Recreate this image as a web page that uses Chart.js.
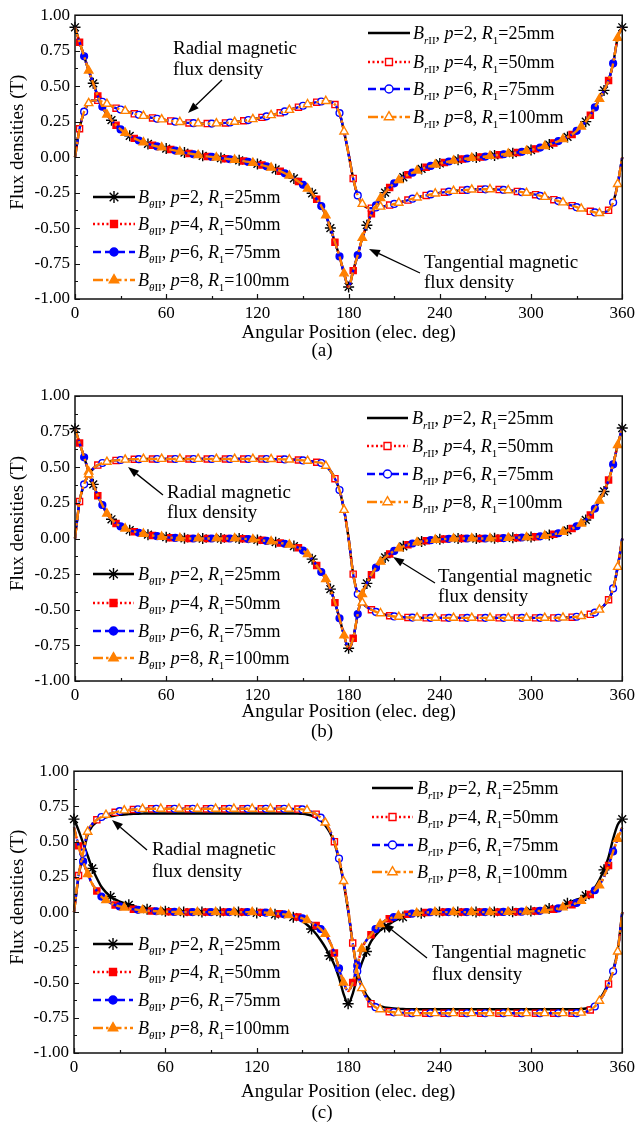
<!DOCTYPE html>
<html>
<head>
<meta charset="utf-8">
<script src="https://cdn.jsdelivr.net/npm/chart.js@4.4.1/dist/chart.umd.min.js"></script>
<style>
html, body { margin: 0; padding: 0; background: #fff; }
#wrap { position: relative; width: 639px; height: 1122px; }
.panel { position: absolute; left: 0; width: 639px; }
</style>
</head>
<body>
<div id="wrap">
  <div class="panel" style="top:0px"><canvas id="ca" width="639" height="378"></canvas></div>
  <div class="panel" style="top:378px"><canvas id="cb" width="639" height="378"></canvas></div>
  <div class="panel" style="top:756px"><canvas id="cc" width="639" height="366"></canvas></div>
</div>
<script>
// angular position (elec. deg)
const angles = [
  0,3,6,9,12,15,18,21,24,27,
  30,33,36,39,42,45,48,51,54,57,
  60,63,66,69,72,75,78,81,84,87,
  90,93,96,99,102,105,108,111,114,117,
  120,123,126,129,132,135,138,141,144,147,
  150,153,156,159,162,165,168,171,174,177,
  180,183,186,189,192,195,198,201,204,207,
  210,213,216,219,222,225,228,231,234,237,
  240,243,246,249,252,255,258,261,264,267,
  270,273,276,279,282,285,288,291,294,297,
  300,303,306,309,312,315,318,321,324,327,
  330,333,336,339,342,345,348,351,354,357,
  360
];

// (a) radial / tangential
const radA = [
  0,0.2,0.32,0.38,0.4,0.4,0.39,0.375,0.36,0.345,
  0.335,0.325,0.315,0.305,0.298,0.29,0.283,0.276,0.27,0.265,
  0.26,0.255,0.25,0.247,0.244,0.241,0.239,0.237,0.236,0.236,
  0.236,0.237,0.239,0.241,0.244,0.248,0.252,0.256,0.261,0.267,
  0.273,0.28,0.287,0.295,0.303,0.312,0.322,0.332,0.342,0.352,
  0.362,0.372,0.38,0.387,0.392,0.395,0.39,0.37,0.31,0.18,
  0.02,-0.15,-0.27,-0.33,-0.355,-0.36,-0.355,-0.35,-0.345,-0.338,
  -0.33,-0.322,-0.313,-0.303,-0.293,-0.285,-0.277,-0.27,-0.263,-0.257,
  -0.252,-0.247,-0.243,-0.239,-0.236,-0.233,-0.231,-0.229,-0.228,-0.227,
  -0.227,-0.227,-0.228,-0.229,-0.231,-0.234,-0.238,-0.242,-0.247,-0.252,
  -0.258,-0.265,-0.273,-0.281,-0.29,-0.3,-0.31,-0.32,-0.331,-0.342,
  -0.353,-0.363,-0.373,-0.382,-0.39,-0.395,-0.39,-0.375,-0.32,-0.19,
  0
];
const tanA = [
  0.915,0.81,0.71,0.61,0.52,0.43,0.355,0.3,0.26,0.225,
  0.195,0.17,0.15,0.132,0.117,0.104,0.093,0.083,0.075,0.068,
  0.06,0.053,0.046,0.039,0.032,0.026,0.02,0.014,0.009,0.005,
  0.001,-0.003,-0.007,-0.011,-0.015,-0.019,-0.023,-0.028,-0.034,-0.041,
  -0.048,-0.056,-0.065,-0.075,-0.086,-0.099,-0.114,-0.131,-0.15,-0.172,
  -0.195,-0.222,-0.255,-0.297,-0.345,-0.41,-0.5,-0.6,-0.7,-0.82,
  -0.915,-0.8,-0.69,-0.57,-0.48,-0.4,-0.34,-0.29,-0.25,-0.215,
  -0.185,-0.162,-0.142,-0.125,-0.11,-0.096,-0.083,-0.072,-0.062,-0.053,
  -0.045,-0.038,-0.031,-0.025,-0.019,-0.014,-0.01,-0.006,-0.003,0,
  0.004,0.008,0.012,0.016,0.02,0.024,0.028,0.032,0.037,0.043,
  0.05,0.058,0.067,0.077,0.088,0.1,0.113,0.127,0.142,0.16,
  0.185,0.215,0.25,0.295,0.35,0.41,0.47,0.54,0.66,0.84,
  0.915
];

// (b)
const radB = [
  0,0.26,0.38,0.45,0.49,0.515,0.53,0.538,0.544,0.548,
  0.551,0.553,0.555,0.556,0.557,0.558,0.558,0.558,0.558,0.558,
  0.558,0.558,0.558,0.558,0.558,0.558,0.558,0.558,0.558,0.558,
  0.558,0.558,0.558,0.558,0.558,0.558,0.558,0.558,0.558,0.558,
  0.558,0.558,0.558,0.557,0.557,0.556,0.555,0.554,0.553,0.551,
  0.548,0.545,0.54,0.535,0.53,0.51,0.475,0.42,0.34,0.2,
  0,-0.25,-0.39,-0.45,-0.48,-0.5,-0.515,-0.525,-0.535,-0.542,
  -0.547,-0.55,-0.552,-0.554,-0.555,-0.556,-0.557,-0.557,-0.557,-0.557,
  -0.557,-0.557,-0.557,-0.557,-0.557,-0.557,-0.557,-0.557,-0.557,-0.557,
  -0.557,-0.557,-0.557,-0.557,-0.557,-0.557,-0.557,-0.557,-0.557,-0.557,
  -0.557,-0.557,-0.557,-0.557,-0.557,-0.557,-0.556,-0.555,-0.554,-0.552,
  -0.549,-0.545,-0.54,-0.532,-0.52,-0.5,-0.47,-0.43,-0.35,-0.2,
  0
];
const tanB = [
  0.77,0.67,0.57,0.47,0.38,0.3,0.235,0.175,0.135,0.105,
  0.085,0.07,0.058,0.048,0.04,0.033,0.027,0.021,0.016,0.012,
  0.009,0.006,0.004,0.002,0.001,0,0,0,0,0,
  0,0,0,0,0,0,0,-0.002,-0.004,-0.007,
  -0.01,-0.013,-0.017,-0.021,-0.026,-0.031,-0.037,-0.044,-0.053,-0.065,
  -0.085,-0.11,-0.145,-0.19,-0.235,-0.285,-0.355,-0.45,-0.56,-0.68,
  -0.77,-0.7,-0.53,-0.39,-0.315,-0.255,-0.205,-0.163,-0.133,-0.108,
  -0.087,-0.069,-0.055,-0.044,-0.035,-0.027,-0.021,-0.016,-0.012,-0.009,
  -0.006,-0.004,-0.002,-0.001,0,0,0,0,0,0,
  0,0,0.001,0.002,0.003,0.004,0.005,0.006,0.007,0.008,
  0.01,0.012,0.015,0.019,0.024,0.03,0.037,0.046,0.057,0.07,
  0.086,0.105,0.13,0.165,0.21,0.265,0.33,0.41,0.52,0.655,
  0.775
];

// (c) p=4,6,8 curves and the p=2 curves
const radC = [
  0,0.26,0.42,0.57,0.625,0.655,0.675,0.69,0.7,0.708,
  0.716,0.721,0.725,0.728,0.73,0.732,0.733,0.733,0.733,0.733,
  0.733,0.733,0.733,0.733,0.733,0.733,0.733,0.733,0.733,0.733,
  0.733,0.733,0.733,0.733,0.733,0.733,0.733,0.733,0.733,0.733,
  0.733,0.733,0.733,0.733,0.733,0.733,0.733,0.733,0.732,0.731,
  0.729,0.723,0.712,0.695,0.67,0.635,0.58,0.5,0.38,0.22,
  0.02,-0.22,-0.42,-0.54,-0.61,-0.65,-0.675,-0.69,-0.7,-0.707,
  -0.711,-0.714,-0.716,-0.717,-0.718,-0.718,-0.718,-0.718,-0.718,-0.718,
  -0.718,-0.718,-0.718,-0.718,-0.718,-0.718,-0.718,-0.718,-0.718,-0.718,
  -0.718,-0.718,-0.718,-0.718,-0.718,-0.718,-0.718,-0.718,-0.718,-0.718,
  -0.718,-0.718,-0.718,-0.718,-0.718,-0.718,-0.718,-0.718,-0.718,-0.718,
  -0.717,-0.714,-0.708,-0.695,-0.67,-0.63,-0.58,-0.51,-0.42,-0.28,
  0
];
const radC2 = [
  0,0.25,0.41,0.55,0.61,0.64,0.66,0.672,0.68,0.686,
  0.69,0.693,0.695,0.697,0.698,0.699,0.7,0.7,0.7,0.7,
  0.7,0.7,0.7,0.7,0.7,0.7,0.7,0.7,0.7,0.7,
  0.7,0.7,0.7,0.7,0.7,0.7,0.7,0.7,0.7,0.7,
  0.7,0.7,0.7,0.7,0.7,0.7,0.7,0.7,0.7,0.699,
  0.697,0.693,0.685,0.67,0.65,0.615,0.565,0.49,0.37,0.21,
  0.01,-0.22,-0.41,-0.52,-0.59,-0.63,-0.655,-0.668,-0.676,-0.681,
  -0.684,-0.686,-0.688,-0.689,-0.69,-0.69,-0.69,-0.69,-0.69,-0.69,
  -0.69,-0.69,-0.69,-0.69,-0.69,-0.69,-0.69,-0.69,-0.69,-0.69,
  -0.69,-0.69,-0.69,-0.69,-0.69,-0.69,-0.69,-0.69,-0.69,-0.69,
  -0.69,-0.69,-0.69,-0.69,-0.69,-0.69,-0.69,-0.69,-0.69,-0.69,
  -0.69,-0.688,-0.684,-0.675,-0.655,-0.62,-0.57,-0.5,-0.41,-0.27,
  0
];
const tanC = [
  0.6,0.47,0.36,0.27,0.2,0.15,0.11,0.085,0.065,0.05,
  0.04,0.032,0.025,0.02,0.016,0.013,0.01,0.008,0.006,0.004,
  0.003,0.002,0.001,0,0,0,0,0,0,0,
  0,0,0,0,0,0,0,0,0,0,
  -0.001,-0.002,-0.004,-0.006,-0.009,-0.012,-0.016,-0.021,-0.027,-0.035,
  -0.045,-0.058,-0.075,-0.095,-0.12,-0.155,-0.21,-0.29,-0.4,-0.5,
  -0.56,-0.5,-0.38,-0.26,-0.2,-0.16,-0.12,-0.085,-0.063,-0.047,
  -0.035,-0.026,-0.02,-0.015,-0.011,-0.008,-0.005,-0.003,-0.001,0,
  0,0,0,0,0,0,0,0,0,0,
  0,0,0,0,0.001,0.001,0.002,0.002,0.003,0.004,
  0.005,0.007,0.009,0.012,0.016,0.02,0.026,0.033,0.042,0.052,
  0.065,0.08,0.1,0.125,0.155,0.19,0.25,0.33,0.43,0.52,
  0.6
];
const tanC2 = [
  0.66,0.58,0.49,0.4,0.31,0.24,0.18,0.14,0.11,0.09,
  0.075,0.063,0.052,0.042,0.034,0.027,0.021,0.016,0.012,0.009,
  0.006,0.004,0.002,0.001,0,0,0,0,0,0,
  0,0,0,0,0,0,0,-0.001,-0.002,-0.004,
  -0.006,-0.008,-0.01,-0.013,-0.016,-0.02,-0.024,-0.029,-0.036,-0.047,
  -0.065,-0.09,-0.12,-0.155,-0.2,-0.25,-0.31,-0.375,-0.465,-0.58,
  -0.65,-0.58,-0.46,-0.36,-0.28,-0.21,-0.165,-0.13,-0.105,-0.085,
  -0.065,-0.048,-0.035,-0.026,-0.019,-0.013,-0.009,-0.006,-0.003,-0.001,
  0,0,0,0,0,0,0,0,0,0,
  0,0,0,0.001,0.001,0.002,0.002,0.003,0.004,0.005,
  0.007,0.01,0.014,0.019,0.025,0.032,0.04,0.05,0.062,0.075,
  0.088,0.1,0.118,0.14,0.175,0.23,0.3,0.39,0.52,0.62,
  0.66
];

const poles = ['2', '4', '6', '8'];
const radii = ['25', '50', '75', '100'];
const yTicks = [-1, -0.75, -0.5, -0.25, 0, 0.25, 0.5, 0.75, 1];

// styles of the four cases
const colors = ['#000000', '#ff0000', '#0000ff', '#ff8000'];
const dashes = [[], [2, 2.5], [8, 4], [10, 3, 2.5, 3]];
const tanMarks = ['star', 'rect', 'circle', 'triangle'];
const radMarks = [null, 'rect', 'circle', 'triangle'];
const markSize = [5.5, 4.3, 3.4, 4.8];

const FONT = '"Liberation Serif", "Times New Roman", serif';

const panels = [
  {
    id: 'ca', cap: '(a)', area: { left: 75, top: 15, right: 624, bottom: 299 },
    rad: [radA, radA, radA, radA], tan: [tanA, tanA, tanA, tanA],
    legR: { x0: 368, x1: 410, tx: 413, ys: [33, 62, 89, 117] },
    legT: { x0: 93, x1: 135, tx: 138, ys: [197, 224, 252, 280] },
    notes: [
      { lines: ['Radial magnetic', 'flux density'], x: 173, ys: [49, 70], from: [222, 80], to: [188, 113] },
      { lines: ['Tangential magnetic', 'flux density'], x: 424, ys: [263, 283], from: [420, 273], to: [369, 249] }
    ],
    titleY: 333, capY: 351
  },
  {
    id: 'cb', cap: '(b)', area: { left: 75, top: 18, right: 623, bottom: 303 },
    rad: [radB, radB, radB, radB], tan: [tanB, tanB, tanB, tanB],
    legR: { x0: 367, x1: 408, tx: 412, ys: [40, 68, 96, 124] },
    legT: { x0: 93, x1: 134, tx: 138, ys: [196, 225, 253, 280] },
    notes: [
      { lines: ['Radial magnetic', 'flux density'], x: 167, ys: [115, 135], from: [163, 117], to: [128, 89] },
      { lines: ['Tangential magnetic', 'flux density'], x: 438, ys: [199, 219], from: [435, 205], to: [393, 179] }
    ],
    titleY: 334, capY: 354
  },
  {
    id: 'cc', cap: '(c)', area: { left: 74, top: 14, right: 624, bottom: 297 },
    rad: [radC2, radC, radC, radC], tan: [tanC2, tanC, tanC, tanC],
    legR: { x0: 372, x1: 413, tx: 417, ys: [32, 61, 89, 116] },
    legT: { x0: 93, x1: 133, tx: 138, ys: [188, 216, 244, 272] },
    notes: [
      { lines: ['Radial magnetic', 'flux density'], x: 152, ys: [94, 116], from: [147, 94], to: [112, 64] },
      { lines: ['Tangential magnetic', 'flux density'], x: 432, ys: [197, 219], from: [427, 202], to: [383, 167] }
    ],
    titleY: 336, capY: 357
  }
];

function toPoints(values) {
  return angles.map((a, i) => ({ x: a, y: values[i] }));
}

function makeDatasets(p) {
  const sets = [];
  for (let i = 0; i < 4; i++) {
    const common = {
      borderColor: colors[i],
      borderWidth: 2.4,
      borderDash: dashes[i],
      cubicInterpolationMode: 'monotone',
      pointBorderColor: colors[i],
      pointBorderWidth: 1.4,
      order: 4 - i,
      clip: 10
    };
    sets.push(Object.assign({}, common, {
      label: 'Br ' + poles[i],
      data: toPoints(p.rad[i]),
      pointStyle: radMarks[i] || 'circle',
      pointBackgroundColor: '#ffffff',
      pointRadius: radMarks[i] ? (c => (c.dataIndex % 4 === i ? markSize[i] : 0)) : 0
    }));
    sets.push(Object.assign({}, common, {
      label: 'Bt ' + poles[i],
      data: toPoints(p.tan[i]),
      pointStyle: tanMarks[i],
      pointBackgroundColor: colors[i],
      pointRadius: c => (c.dataIndex % 4 === i ? markSize[i] : 0)
    }));
  }
  return sets;
}

function richText(ctx, x, y, parts) {
  let cx = x;
  parts.forEach(([t, kind]) => {
    const sub = kind[0] === 's';
    const ital = kind.indexOf('i') >= 0;
    const size = sub ? 11 : 18;
    ctx.font = (ital ? 'italic ' : '') + size + 'px ' + FONT;
    ctx.fillText(t, cx, sub ? y + 5 : y);
    cx += ctx.measureText(t).width;
  });
}

function legendRow(ctx, L, k, i, style, hollow) {
  const y = L.ys[i];
  ctx.save();
  ctx.strokeStyle = colors[i];
  ctx.lineWidth = 2.4;
  ctx.setLineDash(dashes[i]);
  ctx.beginPath();
  ctx.moveTo(L.x0, y);
  ctx.lineTo(L.x1, y);
  ctx.stroke();
  ctx.setLineDash([]);
  if (style) {
    ctx.fillStyle = hollow ? '#ffffff' : colors[i];
    ctx.lineWidth = 1.4;
    Chart.helpers.drawPoint(ctx, { pointStyle: style, radius: markSize[i] + 0.6, borderWidth: 1.4, rotation: 0 }, (L.x0 + L.x1) / 2, y);
  }
  ctx.fillStyle = '#000';
  ctx.textBaseline = 'alphabetic';
  ctx.textAlign = 'left';
  richText(ctx, L.tx, y + 6, [
    ['B', 'i'], [k, 'si'], ['II', 'sn'], [', ', 'n'], ['p', 'i'],
    ['=' + poles[i] + ', ', 'n'], ['R', 'i'], ['1', 'sn'], ['=' + radii[i] + 'mm', 'n']
  ]);
  ctx.restore();
}

function arrow(ctx, from, to) {
  const ang = Math.atan2(to[1] - from[1], to[0] - from[0]);
  const hl = 11, hw = 4;
  const bx = to[0] - hl * Math.cos(ang), by = to[1] - hl * Math.sin(ang);
  ctx.beginPath();
  ctx.moveTo(from[0], from[1]);
  ctx.lineTo(bx, by);
  ctx.stroke();
  ctx.beginPath();
  ctx.moveTo(to[0], to[1]);
  ctx.lineTo(bx + hw * Math.sin(ang), by - hw * Math.cos(ang));
  ctx.lineTo(bx - hw * Math.sin(ang), by + hw * Math.cos(ang));
  ctx.closePath();
  ctx.fill();
}

const decor = {
  id: 'decor',
  afterDraw(chart, args, opts) {
    const p = opts.panel;
    const ctx = chart.ctx;
    const a = chart.chartArea;
    const xs = chart.scales.x, ys = chart.scales.y;
    ctx.save();
    // frame
    ctx.strokeStyle = '#111';
    ctx.lineWidth = 1.5;
    ctx.strokeRect(a.left, a.top, a.right - a.left, a.bottom - a.top);
    // inward ticks
    ctx.beginPath();
    for (let v = -1; v <= 1.0001; v += 0.125) {
      const py = Math.round(ys.getPixelForValue(v)) + 0.5;
      const major = Math.abs(v * 4 - Math.round(v * 4)) < 1e-6;
      ctx.moveTo(a.left, py);
      ctx.lineTo(a.left + (major ? 5 : 3), py);
    }
    for (let d = 0; d <= 360; d += 30) {
      const px = Math.round(xs.getPixelForValue(d)) + 0.5;
      ctx.moveTo(px, a.bottom);
      ctx.lineTo(px, a.bottom - (d % 60 === 0 ? 5 : 3));
    }
    ctx.lineWidth = 1.2;
    ctx.stroke();

    // legends
    for (let i = 0; i < 4; i++) legendRow(ctx, p.legR, 'r', i, radMarks[i], true);
    for (let i = 0; i < 4; i++) legendRow(ctx, p.legT, 'θ', i, tanMarks[i], false);

    // annotations
    ctx.fillStyle = '#000';
    ctx.strokeStyle = '#000';
    ctx.lineWidth = 1.3;
    ctx.font = '19px ' + FONT;
    ctx.textAlign = 'left';
    ctx.textBaseline = 'middle';
    p.notes.forEach(n => {
      n.lines.forEach((t, j) => ctx.fillText(t, n.x, n.ys[j]));
      arrow(ctx, n.from, n.to);
    });

    // axis titles and caption
    ctx.font = '19px ' + FONT;
    ctx.textAlign = 'center';
    ctx.fillText('Angular Position (elec. deg)', (a.left + a.right) / 2, p.titleY);
    ctx.fillText(p.cap, 322, p.capY);
    ctx.translate(18, (a.top + a.bottom) / 2 - 15);
    ctx.rotate(-Math.PI / 2);
    ctx.fillText('Flux densities (T)', 0, 0);
    ctx.restore();
  }
};

panels.forEach(p => {
  const canvas = document.getElementById(p.id);
  const W = canvas.width, H = canvas.height;
  new Chart(canvas.getContext('2d'), {
    type: 'line',
    data: { datasets: makeDatasets(p) },
    options: {
      responsive: false,
      animation: false,
      events: [],
      layout: { padding: { top: p.area.top, right: W - p.area.right, left: 0, bottom: 0 } },
      plugins: { legend: { display: false }, tooltip: { enabled: false }, decor: { panel: p } },
      scales: {
        x: {
          type: 'linear', min: 0, max: 360,
          afterFit: s => { s.height = H - p.area.bottom; },
          grid: { display: false, drawTicks: false },
          border: { display: false },
          ticks: { stepSize: 60, padding: 4, color: '#000', font: { family: FONT, size: 17 }, maxRotation: 0 }
        },
        y: {
          type: 'linear', min: -1, max: 1,
          afterFit: s => { s.width = p.area.left; },
          afterBuildTicks: s => { s.ticks = yTicks.map(v => ({ value: v })); },
          grid: { display: false, drawTicks: false },
          border: { display: false },
          ticks: { padding: 5, color: '#000', font: { family: FONT, size: 17 }, callback: v => v.toFixed(2) }
        }
      }
    },
    plugins: [decor]
  });
});
</script>
</body>
</html>
